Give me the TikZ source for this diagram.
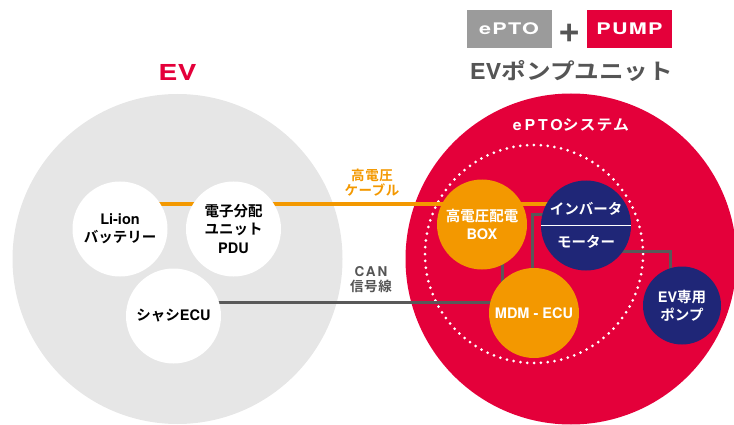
\documentclass[tikz,border=0pt]{standalone}
\usepackage{fontspec}
\usepackage{graphicx}
\setmainfont{TeX Gyre Heros}
\newfontfamily\jp{Noto Sans CJK JP}[BoldFont={Noto Sans CJK JP Bold}]
\usetikzlibrary{positioning}
\definecolor{eptored}{HTML}{E4003A}
\definecolor{eptoorange}{HTML}{F39800}
\definecolor{eptonavy}{HTML}{1F2677}
\definecolor{evgrey}{HTML}{E6E6E6}
\definecolor{wiregrey}{HTML}{595959}
\definecolor{textgrey}{HTML}{555555}
\definecolor{badgegrey}{HTML}{9B9B9B}
\pgfdeclarelayer{bg}
\pgfdeclarelayer{wires}
\pgfsetlayers{bg,wires,main}
\newcommand\spaced[2]{{\addfontfeature{LetterSpace=#1}#2}}
\newcommand\jpsp[2]{{\jp\addfontfeature{LetterSpace=#1}#2}}
\newcommand\wide[2]{\scalebox{#1}[1]{#2}}

\begin{document}
\begin{tikzpicture}[x=1pt,y=-1pt]
\tikzset{
    zone/.style={circle, inner sep=0pt, outer sep=0pt},
    unit/.style={circle, inner sep=0pt, outer sep=0pt, align=center,
        font=\bfseries\fontsize{14.5}{18}\selectfont},
    unitW/.style={unit, fill=white, text=black, minimum size=95pt},
    unitO/.style={unit, fill=eptoorange, text=white, minimum size=90pt},
    unitN/.style={unit, fill=eptonavy, text=white, minimum size=90pt},
    cable/.style={line width=3pt, color=eptoorange},
    wire/.style={line width=3pt, color=wiregrey},
    badge/.style={minimum width=85pt, minimum height=38pt, inner sep=0pt,
        text=white, font=\bfseries\fontsize{16}{16}\selectfont},
    linenote/.style={align=center, inner sep=0pt, font=\bfseries\fontsize{13.5}{15}\selectfont},
    title/.style={inner sep=0pt, font=\bfseries\fontsize{22}{22}\selectfont}}
\def\rDot{218}

\useasboundingbox (0,0) rectangle (734,425);
\clip (0,0) rectangle (734,425);

% fixed points of the lines
\path (0,204)coordinate(HV);
\path (0,302)coordinate(CAN);
\path (502,0)coordinate(BM);
\path (532,214)coordinate(IM);
\path (670,251)coordinate(IP);

% the two zones
\begin{pgfonlayer}{bg}
\node[zone, fill=evgrey, minimum size=330pt] (EV) at (177.5,259) {};
\node[zone, fill=eptored, minimum size=331pt] (SYS) at (571,259) {};
\node[zone, draw=white, line width=3pt, line cap=round,
    dash pattern=on 0pt off 6.85pt, minimum size=\rDot pt] (core) at (534,254) {};
\end{pgfonlayer}

% units
\node[unitW] (Li) at (120,229) {Li-ion\\{\jp バッテリー}};
\node[unitW] (PDU) at (233.5,229) {{\jp 電子分配}\\{\jp ユニット}\\[1pt]PDU};
\node[unitW] (ECU) at (173.5,316) {{\jp シャシ}ECU};
\node[unitO] (BOX) at (482,224.5) {{\jp 高電圧配電}\\BOX};
\node[unitN] (Inv) at (586,225.5) {};
\node[unitO] (MDM) at (534,313) {MDM - ECU};
\node[unitN, minimum size=78pt] (Pump) at (682,305.5) {EV{\jp 専用}\\{\jp ポンプ}};

\draw[white, line width=0.8pt] (Inv.west) -- (Inv.east);
\node[unit, text=white] (InvT) at ([yshift=17pt]Inv.center) {\jp インバータ};
\node[unit, text=white] (InvB) at ([yshift=-16pt]Inv.center) {\jp モーター};

% lines
\begin{pgfonlayer}{wires}
\draw[cable] (Li.center |- HV) -- (Inv.center |- HV);
\draw[wire] (ECU.center |- CAN) -- (MDM.center |- CAN);
\draw[wire] (BOX.center -| BM) -- (MDM.center -| BM);
\draw[wire] (MDM.center -| IM) |- (Inv.center |- IM);
\draw[wire] (Inv.center |- IP) -- (IP) -- (Pump.center -| IP);
\end{pgfonlayer}

\node[linenote, text=eptoorange] (hvT) at (372,182.5) {\jpsp{4}{高電圧}\\\jpsp{4}{ケーブル}};
\node[linenote, text=textgrey] (canT) at (371,279.5) {\spaced{15}{CAN}\\\jpsp{4}{信号線}};

% titles
\node[title, text=eptored] (evT) at (177.5,72) {\wide{1.3}{EV}};
\node[linenote, text=white, font=\bfseries\fontsize{15}{15}\selectfont] (sysT) at (571,125)
    {\wide{1.06}{\spaced{18}{ePTO}\jpsp{7}{システム}}};
\node[badge, fill=badgegrey] (ePTO) at (509,29) {\wide{1.35}{\spaced{6}{ePTO}}};
\node[badge, fill=eptored] (PUMP) at (629.5,29) {\wide{1.35}{\spaced{6}{PUMP}}};
\node[inner sep=0pt, text=textgrey, font=\bfseries\fontsize{38}{38}\selectfont] (plus) at (570,33) {+};
\node[title, text=textgrey] (unitT) at (571.5,71)
    {\wide{1.08}{EV}\wide{1.12}{\jp ポンプユニット}};
\end{tikzpicture}
\end{document}
